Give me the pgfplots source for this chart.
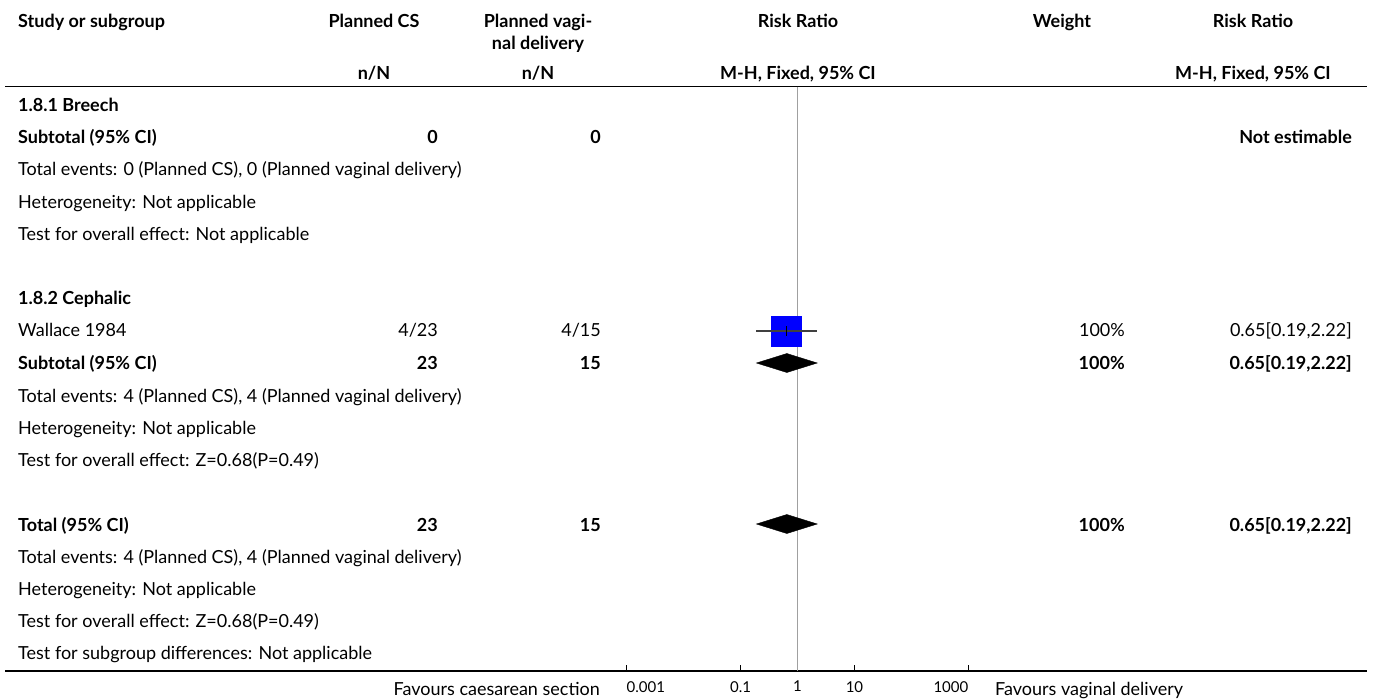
\documentclass[border=0pt]{standalone}
\usepackage{pgfplots}
\pgfplotsset{compat=1.18}
\usepackage{fontspec}
\setmainfont{Lato}
\definecolor{refgray}{HTML}{A0A0A0}
\definecolor{cigray}{HTML}{404040}
\newcommand\Lt[3]{\node[anchor=base west,inner sep=0pt] at (#1,#2) {#3};}
\newcommand\Rt[3]{\node[anchor=base east,inner sep=0pt] at (#1,#2) {#3};}
\newcommand\Ct[3]{\node[anchor=base,inner sep=0pt] at (#1,#2) {#3};}
\begin{document}
\fontsize{18}{21}\selectfont
\begin{tikzpicture}[x=1pt,y=-1pt]
\useasboundingbox (0,0) rectangle (1373,700);
% header
\Lt{18}{28}{\bfseries Study or subgroup}
\Ct{374}{28}{\bfseries Planned CS}
\Ct{538}{28}{\bfseries Planned vagi-}
\Ct{538}{50}{\bfseries nal delivery}
\Ct{374}{80}{\bfseries n/N}
\Ct{538}{80}{\bfseries n/N}
\Ct{798}{28}{\bfseries Risk Ratio}
\Ct{798}{80}{\bfseries M-H, Fixed, 95\% CI}
\Ct{1062}{28}{\bfseries Weight}
\Ct{1253}{28}{\bfseries Risk Ratio}
\Ct{1253}{80}{\bfseries M-H, Fixed, 95\% CI}
\draw[line width=1.5pt] (5,86.5) -- (1367,86.5);
% group 1
\Lt{18}{112}{\bfseries 1.8.1 Breech}
\Lt{18}{144}{\bfseries Subtotal (95\% CI)}
\Rt{438}{144}{\bfseries 0}
\Rt{601}{144}{\bfseries 0}
\Rt{1352}{144}{\bfseries Not estimable}
\Lt{18}{176}{Total events: 0 (Planned CS), 0 (Planned vaginal delivery)}
\Lt{18}{209}{Heterogeneity: Not applicable}
\Lt{18}{241}{Test for overall effect: Not applicable}
% group 2
\Lt{18}{305}{\bfseries 1.8.2 Cephalic}
\Lt{18}{337}{Wallace 1984}
\Rt{438}{337}{4/23}
\Rt{601}{337}{4/15}
\Rt{1125}{337}{100\%}
\Rt{1352}{337}{0.65[0.19,2.22]}
\Lt{18}{370}{\bfseries Subtotal (95\% CI)}
\Rt{438}{370}{\bfseries 23}
\Rt{601}{370}{\bfseries 15}
\Rt{1125}{370}{\bfseries 100\%}
\Rt{1352}{370}{\bfseries 0.65[0.19,2.22]}
\Lt{18}{402}{Total events: 4 (Planned CS), 4 (Planned vaginal delivery)}
\Lt{18}{434}{Heterogeneity: Not applicable}
\Lt{18}{466}{Test for overall effect: Z=0.68(P=0.49)}
% total
\Lt{18}{531}{\bfseries Total (95\% CI)}
\Rt{438}{531}{\bfseries 23}
\Rt{601}{531}{\bfseries 15}
\Rt{1125}{531}{\bfseries 100\%}
\Rt{1352}{531}{\bfseries 0.65[0.19,2.22]}
\Lt{18}{563}{Total events: 4 (Planned CS), 4 (Planned vaginal delivery)}
\Lt{18}{595}{Heterogeneity: Not applicable}
\Lt{18}{627}{Test for overall effect: Z=0.68(P=0.49)}
\Lt{18}{659}{Test for subgroup differences: Not applicable}
% bottom
\draw[line width=1.5pt] (5,671) -- (1367,671);
\Rt{600}{695}{Favours caesarean section}
\Lt{995}{695}{Favours vaginal delivery}
\begin{axis}[
  at={(617pt,-671pt)}, anchor=south west,
  scale only axis, width=361pt, height=584.5pt,
  xmode=log, xmin=0.000676, xmax=1479,
  ymin=86.5, ymax=671, y dir=reverse,
  axis x line*=bottom, axis y line=none,
  x axis line style={line width=2.5pt},
  xtick={0.001,0.1,1,10,1000},
  xticklabels={\makebox[0pt][l]{0.001},0.1,1,10,\makebox[0pt][r]{1000}},
  xminorticks=false,
  xtick align=inside, major tick length=6pt,
  tick style={black, line width=1pt},
  xticklabel style={font=\fontsize{15}{17}\selectfont, inner sep=1pt, yshift=-9pt},
  clip=false,
]
\addplot[refgray, line width=1.5pt] coordinates {(1,86.5) (1,671)};
% study: weight square, CI line, point estimate
\addplot[fill=blue, draw=none] coordinates {(0.347,315.5) (1.217,315.5) (1.217,346.5) (0.347,346.5)} -- cycle;
\addplot[cigray, line width=1.5pt] coordinates {(0.19,331) (2.22,331)};
\addplot[black, line width=1.2pt] coordinates {(0.65,326) (0.65,336)};
% diamonds
\addplot[fill=black, draw=black] coordinates {(0.19,363) (0.65,353.5) (2.22,363) (0.65,372.5)} -- cycle;
\addplot[fill=black, draw=black] coordinates {(0.19,524) (0.65,514.5) (2.22,524) (0.65,533.5)} -- cycle;
\end{axis}
\end{tikzpicture}
\end{document}
